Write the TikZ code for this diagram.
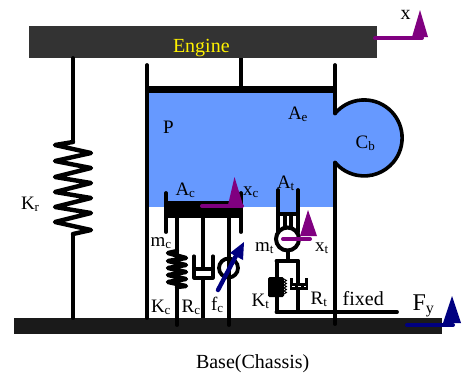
\documentclass[tikz,border=0pt]{standalone}
\usepackage{fontspec}
\setmainfont{Liberation Serif}
\newcommand{\lab}[2]{{\fontsize{19}{19}\selectfont #1\raisebox{-2.2pt}{\fontsize{13}{13}\selectfont #2}}}
\definecolor{bluefill}{HTML}{6699FF}
\definecolor{bardark}{HTML}{333333}
\definecolor{basedark}{HTML}{1A1A1A}
\definecolor{purp}{HTML}{800080}
\definecolor{navyb}{HTML}{000080}
\tikzset{
  mech/.style={draw=black,line width=3.8pt,line cap=round,line join=round},
  thinmech/.style={draw=black,line width=3.2pt,line cap=round,line join=round},
  coil/.style={draw=black,line width=4.4pt,line cap=round,line join=round},
  txt/.style={anchor=base west,inner sep=0pt,outer sep=0pt,text=black},
  shaftp/.style={draw=purp,line width=4pt,line cap=round},
  shaftn/.style={draw=navyb,line width=4pt,line cap=round},
}
\begin{document}
\begin{tikzpicture}[x=1pt,y=-1pt]
\useasboundingbox (0,0) rectangle (462,376);
% fixed parts
\fill[bardark] (29,26) rectangle (377,58);
\fill[basedark] (14,318) rectangle (442,334);
% oil volumes
\fill[bluefill] (147,92) rectangle (335,206.5);
\fill[bluefill] (364,138) circle[radius=38];
% anchor points
\coordinate (krA) at (73,58);
\coordinate (krB) at (73,318);
\coordinate (wallLT) at (147,65);
\coordinate (wallLB) at (147,318);
\coordinate (wallRT) at (335,65);
\coordinate (wallRB) at (335,324);
\coordinate (wallR1) at (335,113.5);
\coordinate (wallR2) at (335,162.5);
% engine spring
\draw[mech] (krA) -- (73,142);
\draw[coil] (73,142) -- (55,145) -- (91,153) -- (55,161) -- (91,168) -- (55,177) -- (91,183) -- (55,192) -- (91,198) -- (55,207) -- (91,213) -- (55,222) -- (91,230) -- (73,234);
\draw[mech] (73,234) -- (krB);
% cylinder
\draw[mech] (wallLT) -- (wallLB);
\draw[mech] (wallRT) -- (wallR1);
\draw[mech] (wallR2) -- (wallRB);
\draw[mech,line cap=butt] (241,58) -- (241,86);
\fill[black] (147,86) rectangle (335,92.5);
\draw[draw=black,line width=3.6pt] (wallR1) arc[start angle=220,end angle=500,radius=38];
% piston c
\fill[black] (166,200.5) rectangle (242,218);
\draw[mech] (166,193) -- (166,232);
\draw[mech] (241,193) -- (241,232);
% Kc, Rc, fc
\draw[mech] (177,218) -- (177,325);
\draw[coil] (177,251) -- (168,253) -- (186,258) -- (168,261) -- (186,265) -- (168,268) -- (186,272) -- (168,275) -- (186,279) -- (168,282) -- (186,286) -- (177,287);
\draw[thinmech,line cap=butt] (203,218) -- (203,269);
\draw[thinmech,line cap=butt] (203,278) -- (203,318);
\draw[thinmech] (194,256) -- (194,278) -- (213,278) -- (213,256);
\draw[thinmech] (194,269) -- (213,269);
\draw[mech] (229,218) -- (229,325);
\draw[draw=black,line width=3.8pt,fill=white] (228.5,268) circle[radius=9.5];
\draw[mech] (229,258) -- (229,278);
\draw[draw=navyb,line width=4.4pt,line cap=round] (218,290) -- (239,250);
\fill[navyb] (244,242) -- (243,260) -- (230,253) -- cycle;
% tube t
\draw[mech] (278,190) -- (278,232);
\draw[mech] (298,190) -- (298,232);
\fill[bluefill] (280,206) rectangle (296,213);
\draw[thinmech] (278,214) -- (298,214);
\draw[thinmech,line cap=butt] (285,214) -- (285,230);
\draw[thinmech,line cap=butt] (291,214) -- (291,230);
\draw[draw=black,line width=4pt,fill=white] (287.5,239) circle[radius=11.5];
% lower t
\draw[mech] (288,251) -- (288,261);
\draw[mech] (276.5,261) -- (298,261);
\draw[mech] (277,261) -- (277,312);
\draw[mech] (298,261) -- (298,312);
\fill[black,rounded corners=1.5pt] (268,277) rectangle (284,297);
\draw[line width=.9pt,black] (284,279) -- (286.5,280.5) -- (284,282) -- (286.5,283.5) -- (284,285) -- (286.5,286.5) -- (284,288) -- (286.5,289.5) -- (284,291) -- (286.5,292.5) -- (284,294);
\draw[mech,line cap=butt] (291.5,278) -- (291.5,289);
\draw[mech,line cap=butt] (306.5,278) -- (306.5,289);
\fill[black] (290,283) rectangle (308,289.5);
\draw[white,line width=.6pt,dashed] (292,286) -- (306,286);
\draw[mech] (276.5,312) -- (397,312);
% arrows
\draw[shaftp] (375,38) -- (422,38);
\fill[purp] (420,10) -- (428,37) -- (412,37) -- cycle;
\draw[shaftp] (202,206) -- (242,206);
\fill[purp] (234.5,177) -- (243,205) -- (228,205) -- cycle;
\draw[shaftp] (283,239) -- (310,239);
\fill[purp] (308,210) -- (317,236) -- (300,236) -- cycle;
\draw[shaftn] (407,325) -- (453,325);
\fill[navyb] (452,296) -- (461,323) -- (443,323) -- cycle;
% labels
\node[txt,text=yellow] (engine) at (173,52) {\fontsize{20}{20}\selectfont Engine};
\node[txt] (base) at (196,368) {\fontsize{20}{20}\selectfont Base(Chassis)};
\node[txt] (fixed) at (342.7,305) {\fontsize{20}{20}\selectfont fixed};
\node[txt] (x) at (400.7,19) {\fontsize{20}{20}\selectfont x};
\node[txt] (P) at (163,133) {\fontsize{19}{19}\selectfont P};
\node[txt] (Ae) at (288,119) {\lab{A}{e}};
\node[txt] (Cb) at (355.6,148) {\lab{C}{b}};
\node[txt] (Ac) at (175.5,195) {\lab{A}{c}};
\node[txt] (xc) at (243,195) {\lab{x}{c}};
\node[txt] (At) at (277,188) {\lab{A}{t}};
\node[txt] (Kr) at (21,209) {\lab{K}{r}};
\node[txt] (mc) at (150.6,246) {\lab{m}{c}};
\node[txt] (Kc) at (151,312) {\lab{K}{c}};
\node[txt] (Rc) at (181.6,312) {\lab{R}{c}};
\node[txt] (fc) at (211,310) {\lab{f}{c}};
\node[txt] (mt) at (255,251.6) {\lab{m}{t}};
\node[txt] (xt) at (315,251) {\lab{x}{t}};
\node[txt] (Kt) at (251.6,306) {\lab{K}{t}};
\node[txt] (Rt) at (310.7,304) {\lab{R}{t}};
\node[txt] (Fy) at (412.6,310) {{\fontsize{24}{24}\selectfont F\raisebox{-3pt}{\fontsize{16}{16}\selectfont y}}};
\end{tikzpicture}
\end{document}
